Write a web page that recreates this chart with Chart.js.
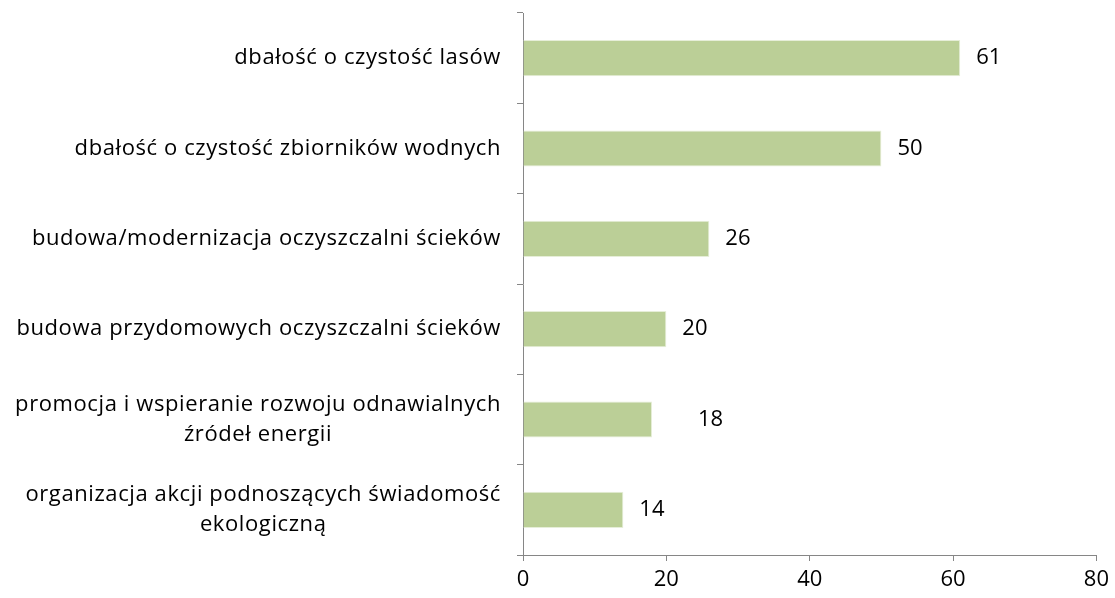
<!DOCTYPE html>
<html>
<head>
<meta charset="utf-8">
<script src="https://cdn.jsdelivr.net/npm/chart.js@4"></script>
<style>
  html, body { margin: 0; padding: 0; background: #fff; }
  #wrap { width: 1115px; height: 598px; }
</style>
</head>
<body>
<div id="wrap"><canvas id="chart" width="1115" height="598"></canvas></div>
<script>
// kategorie i wartości
const categories = [
  ['dbałość o czystość lasów'],
  ['dbałość o czystość zbiorników wodnych'],
  ['budowa/modernizacja oczyszczalni ścieków'],
  ['budowa przydomowych oczyszczalni ścieków'],
  ['promocja i wspieranie rozwoju odnawialnych', 'źródeł energii'],
  ['organizacja akcji podnoszących świadomość', 'ekologiczną']
];
const values = [61, 50, 26, 20, 18, 14];
const xTicks = [0, 20, 40, 60, 80];

const FONT = '"Open Sans"';
const FSIZE = 22;
const AXIS = '#868686';

// etykiety kategorii: blok wyrównany do prawej, linie wyśrodkowane
const catLabels = {
  id: 'catLabels',
  afterDraw(chart) {
    const ctx = chart.ctx, y = chart.scales.y;
    ctx.save();
    ctx.font = FSIZE + 'px ' + FONT;
    ctx.letterSpacing = '0.6px';
    ctx.fillStyle = '#000';
    ctx.textBaseline = 'middle';
    ctx.textAlign = 'center';
    const right = y.left + y.width - 22;
    const lh = 30;
    categories.forEach((lines, i) => {
      const cy = y.getPixelForValue(i);
      const w = Math.max(...lines.map(l => ctx.measureText(l).width));
      const cx = right - w / 2;
      lines.forEach((l, j) => {
        ctx.fillText(l, cx, cy + (j - (lines.length - 1) / 2) * lh);
      });
    });
    ctx.restore();
  }
};

// wartości przy słupkach
const valueLabels = {
  id: 'valueLabels',
  afterDatasetsDraw(chart) {
    const ctx = chart.ctx;
    const meta = chart.getDatasetMeta(0);
    ctx.save();
    ctx.font = FSIZE + 'px ' + FONT;
    ctx.fillStyle = '#000';
    ctx.textBaseline = 'middle';
    ctx.textAlign = 'left';
    meta.data.forEach((bar, i) => {
      const gap = values[i] === 18 ? 46 : 16;
      ctx.fillText(String(values[i]), bar.x + gap, bar.y);
    });
    ctx.restore();
  }
};

new Chart(document.getElementById('chart'), {
  type: 'bar',
  data: {
    labels: categories.map(c => c.join(' ')),
    datasets: [{
      data: values,
      backgroundColor: '#bbcf97',
      borderColor: '#e6eed8',
      borderWidth: 1,
      categoryPercentage: 1,
      barPercentage: 0.4
    }]
  },
  options: {
    indexAxis: 'y',
    responsive: false,
    animation: false,
    layout: { padding: { top: 13, right: 12, left: 0, bottom: 0 } },
    plugins: { legend: { display: false }, tooltip: { enabled: false } },
    scales: {
      x: {
        min: 0, max: 80,
        afterBuildTicks: s => { s.ticks = xTicks.map(v => ({ value: v })); },
        border: { color: AXIS, width: 1 },
        grid: { drawOnChartArea: false, color: AXIS, tickLength: 6 },
        ticks: { color: '#000', font: { family: FONT, size: FSIZE }, padding: 6 },
        afterFit: s => { s.height = 43; }
      },
      y: {
        border: { color: AXIS, width: 1 },
        grid: { offset: true, drawOnChartArea: false, color: AXIS, tickLength: 6 },
        ticks: { display: false },
        afterFit: s => { s.width = 523; }
      }
    }
  },
  plugins: [catLabels, valueLabels]
});
</script>
</body>
</html>
